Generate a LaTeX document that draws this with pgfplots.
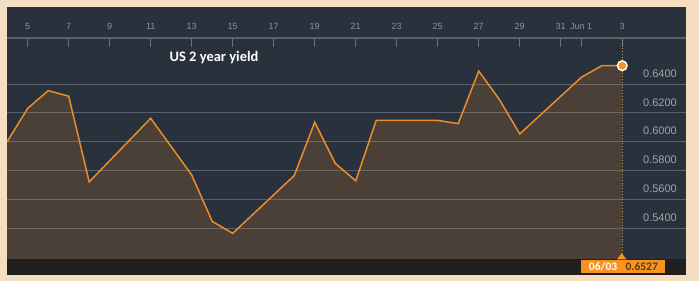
\documentclass[border=0pt]{standalone}
\usepackage{pgfplots}
\pgfplotsset{compat=1.18}
\usepackage{fontspec}
\setmainfont{Liberation Sans}
\newfontfamily\carlito{Carlito}
\definecolor{beige}{HTML}{F3DEC2}
\definecolor{panel}{HTML}{29313C}
\definecolor{strip}{HTML}{202020}
\definecolor{gridc}{HTML}{58616B}
\definecolor{linec}{HTML}{EC8B2A}
\definecolor{boxorange}{HTML}{F7931E}
\definecolor{boxtext}{HTML}{5A3A12}
\definecolor{xlab}{HTML}{8D939A}
\definecolor{ylab}{HTML}{9EA4AA}
\definecolor{tickc}{HTML}{6A727B}
\definecolor{dotc}{HTML}{C89440}
\pgfplotstableread{
d v
4 0.6000
5 0.6231
6 0.6354
7 0.6315
8 0.5720
11 0.6162
13 0.5768
14 0.5446
15 0.5363
18 0.5764
19 0.6134
20 0.5849
21 0.5728
22 0.6147
25 0.6147
26 0.6125
27 0.6490
28 0.6294
29 0.6053
32 0.6446
33 0.6527
34 0.6527
}\yielddata
\begin{document}
\begin{tikzpicture}
\fill[beige] (0pt,0pt) rectangle (699pt,281pt);
\fill[panel] (7pt,6pt) rectangle (686pt,274pt);
\fill[strip] (7pt,6pt) rectangle (686pt,22pt);
\begin{axis}[
  at={(7pt,22pt)}, anchor=south west,
  width=679pt, height=221pt, scale only axis,
  xmin=3.99, xmax=37.11, ymin=0.51847, ymax=0.67194,
  axis line style={draw=none},
  xtick={5,7,9,11,13,15,17,19,21,23,25,27,29,31,32,34},
  xticklabels={5,7,9,11,13,15,17,19,21,23,25,27,29,31,Jun 1,3},
  xticklabel pos=upper, xtick pos=upper,
  tick align=inside, major tick length=9pt,
  xtick style={color=tickc, line width=0.9pt},
  xticklabel style={anchor=center, yshift=12pt, font=\fontsize{9}{10}\selectfont, text=xlab},
  ytick={0.54,0.56,0.58,0.60,0.62,0.64},
  yticklabel pos=right, ytick pos=right,
  ytick style={draw=none},
  yticklabel style={anchor=base east, inner sep=0pt, xshift=-9pt, yshift=6.7pt, font=\fontsize{11}{13}\selectfont, text=ylab,
    /pgf/number format/.cd, fixed, fixed zerofill, precision=4, assume math mode=true},
  ymajorgrids=true, xmajorgrids=false,
  grid style={color=gridc, line width=0.9pt},
]
\addplot[draw=none, fill=boxorange, fill opacity=0.16] table[x=d, y=v] {\yielddata} \closedcycle;
\addplot[color=linec, line width=1.5pt] table[x=d, y=v] {\yielddata};
\addplot[color=dotc, dotted, line width=0.8pt] coordinates {(34,0.51847) (34,0.67194)};
\addplot[only marks, mark=*, mark size=4.8pt, mark options={fill=boxorange, draw=white, line width=1.5pt}] coordinates {(34,0.6527)};
\end{axis}
\draw[color=gridc, line width=1.2pt] (7pt,243pt) -- (686pt,243pt);
\node[text=white, font=\carlito\bfseries\fontsize{14.5}{16}\selectfont] at (214pt,223pt) {US 2 year yield};
\fill[boxorange] (616.7pt,21.5pt) -- (621.7pt,27.7pt) -- (626.7pt,21.5pt) -- cycle;
\node[fill=boxorange, inner xsep=7.6pt, inner ysep=0pt, minimum height=12.7pt, anchor=north, font=\carlito\bfseries\fontsize{11.5}{12}\selectfont] at (623.4pt,21pt) {\textcolor{white}{06/03}\hspace{8.4pt}\textcolor{boxtext}{0.6527}};
\end{tikzpicture}
\end{document}
